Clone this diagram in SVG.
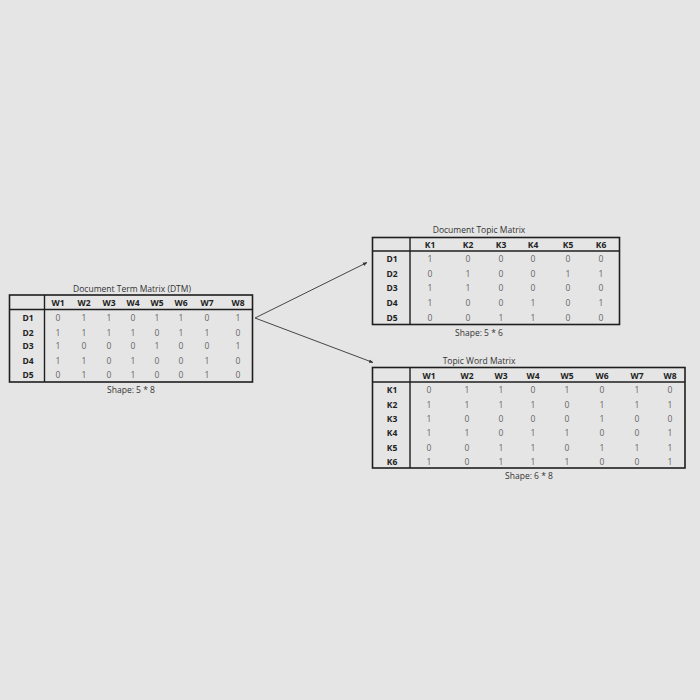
<svg xmlns="http://www.w3.org/2000/svg" width="700" height="700" viewBox="0 0 700 700">
<defs>
<style>
.bg{fill:#e5e5e5}
.box{fill:none;stroke:#1e1e1e;stroke-width:1.6}
.sep{stroke:#1e1e1e;stroke-width:1.4}
text{font-family:"Open Sans","Liberation Sans",sans-serif;text-anchor:middle}
.t{font-size:8.5px;fill:#333}
.h{font-size:8.5px;font-weight:bold;fill:#222}
.v{font-size:8.5px;fill:#666}
.conn{stroke:#333;stroke-width:0.9;fill:none}
</style>
<marker id="ah" viewBox="0 0 10 10" refX="9" refY="5" markerWidth="5" markerHeight="5" orient="auto">
<path d="M0,1 L10,5 L0,9 z" fill="#333"/>
</marker>
</defs>
<rect class="bg" width="700" height="700"/>
<g id="connectors">
<line class="conn" x1="255" y1="318" x2="367" y2="262.5" marker-end="url(#ah)"/>
<line class="conn" x1="255" y1="318" x2="373" y2="362.5" marker-end="url(#ah)"/>
</g>
<g id="dtm">
<text class="t" x="132" y="292">Document Term Matrix (DTM)</text>
<rect class="box" x="9.5" y="295" width="243" height="87"/>
<line class="sep" x1="9.5" y1="309.5" x2="252.5" y2="309.5"/>
<line class="sep" x1="44.5" y1="295" x2="44.5" y2="382"/>
<g class="h">
<text x="58" y="305.5">W1</text><text x="84" y="305.5">W2</text><text x="109" y="305.5">W3</text><text x="133" y="305.5">W4</text><text x="157" y="305.5">W5</text><text x="181" y="305.5">W6</text><text x="207" y="305.5">W7</text><text x="238" y="305.5">W8</text>
<text x="28" y="321">D1</text><text x="28" y="336">D2</text><text x="28" y="349">D3</text><text x="28" y="364">D4</text><text x="28" y="378">D5</text>
</g>
<g class="v">
<text x="58" y="321">0</text><text x="84" y="321">1</text><text x="109" y="321">1</text><text x="133" y="321">0</text><text x="157" y="321">1</text><text x="181" y="321">1</text><text x="207" y="321">0</text><text x="238" y="321">1</text>
<text x="58" y="336">1</text><text x="84" y="336">1</text><text x="109" y="336">1</text><text x="133" y="336">1</text><text x="157" y="336">0</text><text x="181" y="336">1</text><text x="207" y="336">1</text><text x="238" y="336">0</text>
<text x="58" y="349">1</text><text x="84" y="349">0</text><text x="109" y="349">0</text><text x="133" y="349">0</text><text x="157" y="349">1</text><text x="181" y="349">0</text><text x="207" y="349">0</text><text x="238" y="349">1</text>
<text x="58" y="364">1</text><text x="84" y="364">1</text><text x="109" y="364">0</text><text x="133" y="364">1</text><text x="157" y="364">0</text><text x="181" y="364">0</text><text x="207" y="364">1</text><text x="238" y="364">0</text>
<text x="58" y="378">0</text><text x="84" y="378">1</text><text x="109" y="378">0</text><text x="133" y="378">1</text><text x="157" y="378">0</text><text x="181" y="378">0</text><text x="207" y="378">1</text><text x="238" y="378">0</text>
</g>
<text class="t" x="131" y="393">Shape: 5 * 8</text>
</g>
<g id="dtopic">
<text class="t" x="479" y="233">Document Topic Matrix</text>
<rect class="box" x="372.5" y="237.5" width="247" height="87"/>
<line class="sep" x1="372.5" y1="251" x2="619.5" y2="251"/>
<line class="sep" x1="410" y1="237.5" x2="410" y2="324.5"/>
<g class="h">
<text x="430" y="247.5">K1</text><text x="468" y="247.5">K2</text><text x="501" y="247.5">K3</text><text x="533" y="247.5">K4</text><text x="568" y="247.5">K5</text><text x="601" y="247.5">K6</text>
<text x="392" y="262">D1</text><text x="392" y="276.5">D2</text><text x="392" y="291">D3</text><text x="392" y="306">D4</text><text x="392" y="320.5">D5</text>
</g>
<g class="v">
<text x="430" y="262">1</text><text x="468" y="262">0</text><text x="501" y="262">0</text><text x="533" y="262">0</text><text x="568" y="262">0</text><text x="601" y="262">0</text>
<text x="430" y="276.5">0</text><text x="468" y="276.5">1</text><text x="501" y="276.5">0</text><text x="533" y="276.5">0</text><text x="568" y="276.5">1</text><text x="601" y="276.5">1</text>
<text x="430" y="291">1</text><text x="468" y="291">1</text><text x="501" y="291">0</text><text x="533" y="291">0</text><text x="568" y="291">0</text><text x="601" y="291">0</text>
<text x="430" y="306">1</text><text x="468" y="306">0</text><text x="501" y="306">0</text><text x="533" y="306">1</text><text x="568" y="306">0</text><text x="601" y="306">1</text>
<text x="430" y="320.5">0</text><text x="468" y="320.5">0</text><text x="501" y="320.5">1</text><text x="533" y="320.5">1</text><text x="568" y="320.5">0</text><text x="601" y="320.5">0</text>
</g>
<text class="t" x="479" y="336">Shape: 5 * 6</text>
</g>
<g id="twm">
<text class="t" x="479" y="364">Topic Word Matrix</text>
<rect class="box" x="372.5" y="367.5" width="312.5" height="100.5"/>
<line class="sep" x1="372.5" y1="382" x2="685" y2="382"/>
<line class="sep" x1="410" y1="367.5" x2="410" y2="468"/>
<g class="h">
<text x="429" y="378.5">W1</text><text x="467" y="378.5">W2</text><text x="501" y="378.5">W3</text><text x="533" y="378.5">W4</text><text x="567" y="378.5">W5</text><text x="602" y="378.5">W6</text><text x="637" y="378.5">W7</text><text x="670" y="378.5">W8</text>
<text x="392" y="393">K1</text><text x="392" y="407.5">K2</text><text x="392" y="421.5">K3</text><text x="392" y="436">K4</text><text x="392" y="450.5">K5</text><text x="392" y="464.5">K6</text>
</g>
<g class="v">
<text x="429" y="393">0</text><text x="467" y="393">1</text><text x="501" y="393">1</text><text x="533" y="393">0</text><text x="567" y="393">1</text><text x="602" y="393">0</text><text x="637" y="393">1</text><text x="670" y="393">0</text>
<text x="429" y="407.5">1</text><text x="467" y="407.5">1</text><text x="501" y="407.5">1</text><text x="533" y="407.5">1</text><text x="567" y="407.5">0</text><text x="602" y="407.5">1</text><text x="637" y="407.5">1</text><text x="670" y="407.5">1</text>
<text x="429" y="421.5">1</text><text x="467" y="421.5">0</text><text x="501" y="421.5">0</text><text x="533" y="421.5">0</text><text x="567" y="421.5">0</text><text x="602" y="421.5">1</text><text x="637" y="421.5">0</text><text x="670" y="421.5">0</text>
<text x="429" y="436">1</text><text x="467" y="436">1</text><text x="501" y="436">0</text><text x="533" y="436">1</text><text x="567" y="436">1</text><text x="602" y="436">0</text><text x="637" y="436">0</text><text x="670" y="436">1</text>
<text x="429" y="450.5">0</text><text x="467" y="450.5">0</text><text x="501" y="450.5">1</text><text x="533" y="450.5">1</text><text x="567" y="450.5">0</text><text x="602" y="450.5">1</text><text x="637" y="450.5">1</text><text x="670" y="450.5">1</text>
<text x="429" y="464.5">1</text><text x="467" y="464.5">0</text><text x="501" y="464.5">1</text><text x="533" y="464.5">1</text><text x="567" y="464.5">1</text><text x="602" y="464.5">0</text><text x="637" y="464.5">0</text><text x="670" y="464.5">1</text>
</g>
<text class="t" x="529" y="479">Shape: 6 * 8</text>
</g>
</svg>
